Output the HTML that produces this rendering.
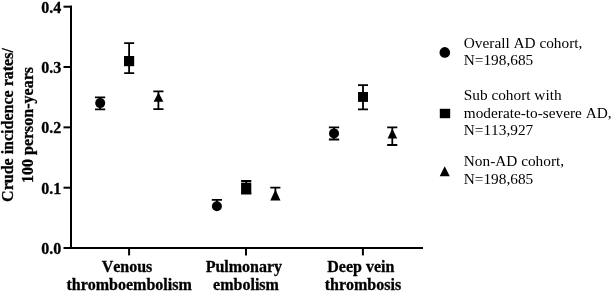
<!DOCTYPE html>
<html>
<head>
<meta charset="utf-8">
<style>
html,body{margin:0;padding:0;background:#fff;width:612px;height:292px;overflow:hidden;}
svg{display:block;filter:grayscale(1);}
text{font-family:"Liberation Serif",serif;fill:#000;font-kerning:none;}
.b{font-weight:bold;font-size:16px;stroke:#000;stroke-width:0.3px;}
.lg{font-size:15.3px;}
</style>
</head>
<body>
<svg width="612" height="292" viewBox="0 0 612 292" xmlns="http://www.w3.org/2000/svg">
<!-- axes -->
<g stroke="#000" stroke-width="2" fill="none">
<line x1="71" y1="5.8" x2="71" y2="249"/>
<line x1="63.5" y1="248" x2="423" y2="248"/>
<line x1="63.5" y1="6.7" x2="72" y2="6.7"/>
<line x1="63.5" y1="67" x2="72" y2="67"/>
<line x1="63.5" y1="127.35" x2="72" y2="127.35"/>
<line x1="63.5" y1="187.7" x2="72" y2="187.7"/>
<line x1="129.1" y1="247" x2="129.1" y2="255.4"/>
<line x1="246" y1="247" x2="246" y2="255.4"/>
<line x1="362.9" y1="247" x2="362.9" y2="255.4"/>
</g>
<!-- y tick labels -->
<g class="b" text-anchor="end">
<text x="61.2" y="12.5">0.4</text>
<text x="61.2" y="72.8">0.3</text>
<text x="61.2" y="133.2">0.2</text>
<text x="61.2" y="193.5">0.1</text>
<text x="61.2" y="253.8">0.0</text>
</g>
<!-- x labels -->
<g class="b" text-anchor="middle">
<text x="127" y="271.7">Venous</text>
<text x="129.1" y="289.9">thromboembolism</text>
<text x="243.9" y="271.7">Pulmonary</text>
<text x="246" y="289.9">embolism</text>
<text x="360.8" y="271.7">Deep vein</text>
<text x="362.9" y="289.9">thrombosis</text>
</g>
<!-- y label -->
<g class="b" text-anchor="middle">
<text transform="translate(13.3,125) rotate(-90)">Crude incidence rates/</text>
<text transform="translate(32.7,125) rotate(-90)">100 person-years</text>
</g>
<!-- error bars -->
<g stroke="#000" stroke-width="1.8" fill="none">
<!-- VTE circle 0.23-0.25 -->
<path d="M100.1 97.4V109.4M95 97.4H105.2M95 109.4H105.2"/>
<!-- VTE square 0.29-0.34 -->
<path d="M129.1 43.1V73.2M124.2 43.1H134.2M124.2 73.2H134.2"/>
<!-- VTE triangle 0.23-0.26 -->
<path d="M158.4 91.3V109.2M153.3 91.3H163.5M153.3 109.2H163.5"/>
<!-- PE circle -->
<path d="M216.9 199.8V206M211.8 199.8H222"/>
<!-- PE square -->
<path d="M246.2 181V193.7M241.1 181H251.3M241.1 193.7H251.3"/>
<!-- PE triangle -->
<path d="M275.4 187.7V199.5M270.3 187.7H280.4"/>
<!-- DVT circle -->
<path d="M334 127.4V139.5M328.9 127.4H339.2M328.9 139.5H339.2"/>
<!-- DVT square -->
<path d="M363 85.1V109.3M358 85.1H368M358 109.3H368"/>
<!-- DVT triangle -->
<path d="M392.3 127.4V145M387.2 127.4H397.3M387.2 145H397.3"/>
</g>
<!-- symbols -->
<g fill="#000">
<circle cx="100.2" cy="103.1" r="5"/>
<rect x="124" y="56" width="10.2" height="10.2"/>
<path d="M158.5 92.6L163.4 101.8H153.6Z"/>
<circle cx="216.9" cy="206.2" r="5"/>
<rect x="241.1" y="182.6" width="10.2" height="11.3"/>
<path d="M275.4 189.5L280.5 200.4H270.3Z"/>
<circle cx="334" cy="133.4" r="5"/>
<rect x="358" y="92" width="10" height="9.9"/>
<path d="M392.3 128.5L397.2 138.6H387.6Z"/>
</g>
<!-- legend -->
<g fill="#000">
<circle cx="444.8" cy="52.4" r="5.3"/>
<rect x="439.8" y="108.8" width="10.4" height="9.4"/>
<path d="M444.7 166.3L449.8 176.2H439.7Z"/>
</g>
<g class="lg">
<text x="463.8" y="47.7">Overall AD cohort,</text>
<text x="463.8" y="65.2">N=198,685</text>
<text x="463.8" y="99.7">Sub cohort with</text>
<text x="463.8" y="117.5">moderate-to-severe AD,</text>
<text x="463.8" y="134.6">N=113,927</text>
<text x="463.8" y="166.3">Non-AD cohort,</text>
<text x="463.8" y="183.8">N=198,685</text>
</g>
</svg>
</body>
</html>
